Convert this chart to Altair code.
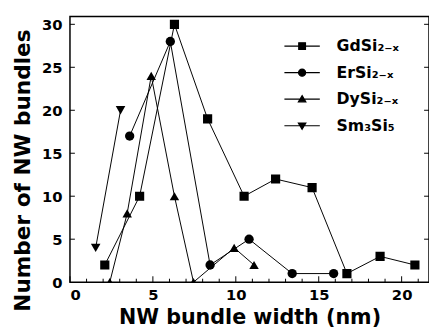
import altair as alt
import pandas as pd

# ---- data ----
series = ["GdSi₂₋ₓ", "ErSi₂₋ₓ", "DySi₂₋ₓ", "Sm₃Si₅"]

gd_x = [2.1, 4.2, 6.3, 8.3, 10.5, 12.4, 14.6, 16.7, 18.7, 20.8]
gd_y = [2, 10, 30, 19, 10, 12, 11, 1, 3, 2]

er_x = [3.6, 6.05, 8.45, 10.8, 13.4, 15.9]
er_y = [17, 28, 2, 5, 1, 1]

dy_x = [2.4, 3.45, 4.9, 6.3, 7.45, 9.9, 11.1]
dy_y = [0, 8, 24, 10, 0, 4, 2]

sm_x = [1.55, 3.05]
sm_y = [4, 20]

x_major_ticks = [0, 5, 10, 15, 20]
x_minor_ticks = [1, 2, 3, 4, 6, 7, 8, 9, 11, 12, 13, 14, 16, 17, 18, 19, 21]
y_major_ticks = [5, 10, 15, 20, 25, 30]

rows = []
for name, xs, ys in zip(series, [gd_x, er_x, dy_x, sm_x], [gd_y, er_y, dy_y, sm_y]):
    for a, b in zip(xs, ys):
        rows.append({"series": name, "x": a, "y": b})
df = pd.DataFrame(rows)

W, H = 365, 270
FONT = "DejaVu Sans"

xenc = alt.X(
    "x:Q",
    scale=alt.Scale(domain=[0, 21.65], nice=False, zero=False),
    axis=alt.Axis(values=x_major_ticks, labelPadding=6, titlePadding=4, tickSize=0,
                  titleFontSize=21),
    title="NW bundle width (nm)",
)
yenc = alt.Y(
    "y:Q",
    scale=alt.Scale(domain=[0, 30.9], nice=False, zero=False),
    axis=alt.Axis(values=[0] + y_major_ticks, labelPadding=8, tickSize=0,
                  titleX=-36, titleY=156),
    title="Number of NW bundles",
)

lines = alt.Chart(df).mark_line(color="black", strokeWidth=1, clip=True).encode(
    x=xenc, y=yenc, detail="series:N", order="x:Q"
)

points = alt.Chart(df).mark_point(filled=True, color="black", opacity=1, clip=True).encode(
    x=xenc,
    y=yenc,
    shape=alt.Shape("series:N", scale=alt.Scale(domain=series,
                    range=["square", "circle", "triangle-up", "triangle-down"]), legend=None),
    size=alt.Size("series:O", scale=alt.Scale(domain=series, range=[87, 95, 135, 135]), legend=None),
)

legend_paths = [
    "M-1,0L1,0M-0.19,-0.19L0.19,-0.19L0.19,0.19L-0.19,0.19Z",
    "M-1,0L1,0M0.2,0A0.2,0.2 0 1 1 -0.2,0A0.2,0.2 0 1 1 0.2,0Z",
    "M-1,0L1,0M0,-0.2L0.21,0.15L-0.21,0.15Z",
    "M-1,0L1,0M0,0.2L0.21,-0.15L-0.21,-0.15Z",
]

legend_layer = alt.Chart(df).transform_filter("false").mark_point(
    filled=False, fill="black", stroke="black", strokeWidth=1.2, opacity=1
).encode(
    x=xenc,
    y=yenc,
    shape=alt.Shape(
        "series:N",
        scale=alt.Scale(domain=series, range=legend_paths),
        legend=alt.Legend(
            title=None, orient="none", legendX=217, legendY=11,
            symbolSize=1296, symbolStrokeWidth=1.2,
            labelFont=FONT, labelFontWeight="bold",
            labelFontSize=16, labelColor="black", labelOffset=16,
            rowPadding=-11, padding=0, symbolOffset=0, labelLimit=200,
        ),
    ),
)

xt_major = alt.Chart(pd.DataFrame({"x": x_major_ticks})).mark_rule(color="black", strokeWidth=1).encode(
    x=xenc, y=alt.value(H), y2=alt.value(H - 6)
)
xt_minor = alt.Chart(pd.DataFrame({"x": x_minor_ticks})).mark_rule(color="black", strokeWidth=1).encode(
    x=xenc, y=alt.value(H), y2=alt.value(H - 3.5)
)
yt_left = alt.Chart(pd.DataFrame({"y": y_major_ticks})).mark_rule(color="black", strokeWidth=1).encode(
    y=yenc, x=alt.value(0), x2=alt.value(5)
)
yt_right = alt.Chart(pd.DataFrame({"y": y_major_ticks})).mark_rule(color="black", strokeWidth=1).encode(
    y=yenc, x=alt.value(W), x2=alt.value(W - 5)
)

chart = (
    alt.layer(xt_major, xt_minor, yt_left, yt_right, lines, points, legend_layer)
    .resolve_scale(shape="independent")
    .properties(
        width=W,
        height=H,
        autosize=alt.AutoSizeParams(type="none"),
        padding={"left": 63, "top": 6, "right": 0, "bottom": 52},
    )
    .configure_view(stroke="black", strokeWidth=1.5)
    .configure_axis(
        domain=False, ticks=False, grid=False,
        labelFont=FONT, labelFontWeight="bold", labelFontSize=15, labelColor="black",
        titleFont=FONT, titleFontWeight="bold", titleFontSize=22, titleColor="black",
    )
)

chart.save("out.html", embed_options={"renderer": "svg", "actions": False})
